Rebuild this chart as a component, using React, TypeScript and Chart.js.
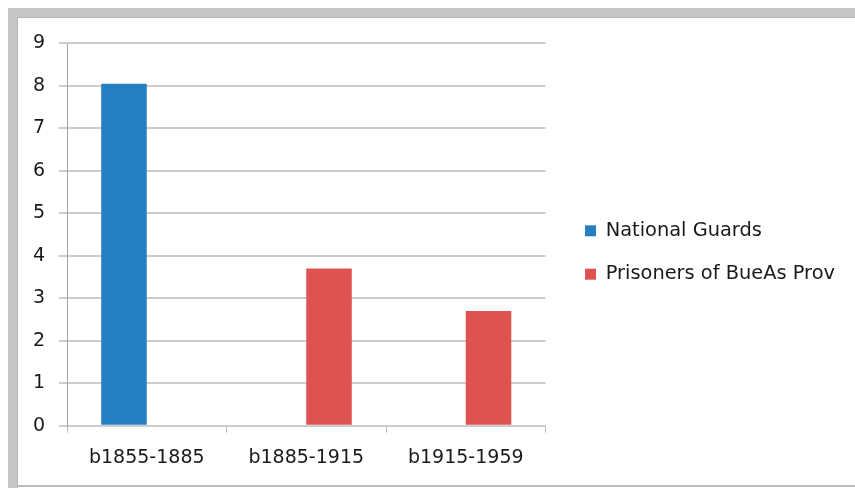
import React, { useEffect, useRef } from 'react';
import { Chart, registerables } from 'chart.js';

Chart.register(...registerables);

// Birth-period cohorts on the category axis
const categories = ['b1855-1885', 'b1885-1915', 'b1915-1959'];

// Series values per cohort (null = no bar in that slot)
const nationalGuards = [8.05, null, null];
const prisonersBueAs = [null, 3.7, 2.7];

const seriesNames = ['National Guards', 'Prisoners of BueAs Prov'];
const seriesColors = ['#2580c3', '#de5250'];

// Value axis range
const yMin = 0;
const yMax = 9;
const yStep = 1;

const WIDTH = 855;
const HEIGHT = 488;
const FONT_FAMILY = "'DejaVu Sans', sans-serif";
const TEXT_COLOR = '#1a1a1a';
const GRID_COLOR = '#cdcdcd';

const LEGEND_FONT_SIZE = 19.4;
const LEGEND_BOX = 11;
const LEGEND_PADDING = 24;
const LEGEND_LEFT = 561;

export default function App() {
  const canvasRef = useRef<HTMLCanvasElement | null>(null);

  useEffect(() => {
    const canvas = canvasRef.current;
    if (!canvas) return;
    const font = { family: FONT_FAMILY, size: 19 };

    // width the legend will claim, so the space right of it can be sized to keep it in place
    const ctx = canvas.getContext('2d')!;
    ctx.font = `${LEGEND_FONT_SIZE}px ${FONT_FAMILY}`;
    const textWidth = Math.max(...seriesNames.map((n) => ctx.measureText(n).width));
    const legendWidth = LEGEND_PADDING + LEGEND_BOX + LEGEND_FONT_SIZE / 2 + textWidth + 10;
    const rightPad = Math.max(0, WIDTH - LEGEND_LEFT - legendWidth);

    const chart = new Chart(canvas, {
      type: 'bar',
      data: {
        labels: categories,
        datasets: [
          {
            label: seriesNames[0],
            data: nationalGuards,
            backgroundColor: seriesColors[0],
            borderWidth: 0,
            categoryPercentage: 0.571,
            barPercentage: 1,
          },
          {
            label: seriesNames[1],
            data: prisonersBueAs,
            backgroundColor: seriesColors[1],
            borderWidth: 0,
            categoryPercentage: 0.571,
            barPercentage: 1,
          },
        ],
      },
      options: {
        responsive: false,
        animation: false,
        devicePixelRatio: 1,
        layout: { padding: { left: 18, top: 17, right: rightPad, bottom: 0 } },
        plugins: {
          legend: {
            position: 'right',
            maxWidth: 400,
            labels: {
              boxWidth: LEGEND_BOX,
              boxHeight: LEGEND_BOX,
              padding: LEGEND_PADDING,
              color: TEXT_COLOR,
              font: { family: FONT_FAMILY, size: LEGEND_FONT_SIZE },
            },
          },
          tooltip: { enabled: false },
        },
        scales: {
          x: {
            grid: {
              display: true,
              drawOnChartArea: false,
              drawTicks: true,
              tickLength: 7,
              color: '#bdbdbd',
              lineWidth: 1,
            },
            border: { display: true, color: GRID_COLOR, width: 2 },
            ticks: { padding: 14, color: TEXT_COLOR, font, maxRotation: 0 },
            afterFit: (scale: any) => {
              scale.height = 62.3;
            },
          },
          y: {
            min: yMin,
            max: yMax,
            ticks: { stepSize: yStep, padding: 14, color: TEXT_COLOR, font },
            grid: { color: GRID_COLOR, lineWidth: 2, tickLength: 8 },
            border: { display: true, color: '#a3a3a3', width: 1 },
            afterFit: (scale: any) => {
              scale.width = 49;
            },
          },
          // empty band above the plot area
          topGap: {
            type: 'linear',
            axis: 'x',
            position: 'top',
            display: true,
            grid: { display: false },
            ticks: { display: false },
            border: { display: false },
            afterFit: (scale: any) => {
              scale.height = 26.3;
            },
          },
          // spacer between the plot area and the legend
          rightGap: {
            type: 'linear',
            axis: 'y',
            position: 'right',
            display: true,
            grid: { display: false },
            ticks: { display: false },
            border: { display: false },
            afterFit: (scale: any) => {
              scale.width = 15.5;
            },
          },
        },
      } as any,
    });

    return () => chart.destroy();
  }, []);

  return (
    <div
      style={{
        position: 'fixed',
        left: 0,
        top: 0,
        width: WIDTH,
        height: HEIGHT,
        background: '#ffffff',
        overflow: 'hidden',
      }}
    >
      <div style={{ position: 'absolute', left: 8, top: 8, right: 0, height: 10, background: '#c6c6c6' }} />
      <div style={{ position: 'absolute', left: 8, top: 8, width: 10, bottom: 0, background: '#c6c6c6' }} />
      <div style={{ position: 'absolute', left: 17, top: 17, right: 0, height: 1, background: '#b6b6b6' }} />
      <div style={{ position: 'absolute', left: 17, top: 17, width: 1, bottom: 0, background: '#b6b6b6' }} />
      <div style={{ position: 'absolute', left: 18, top: 485, right: 0, height: 2, background: '#bcbcbc' }} />
      <canvas
        ref={canvasRef}
        width={WIDTH}
        height={HEIGHT}
        style={{ position: 'absolute', left: 0, top: 0, width: WIDTH, height: HEIGHT }}
      />
    </div>
  );
}
